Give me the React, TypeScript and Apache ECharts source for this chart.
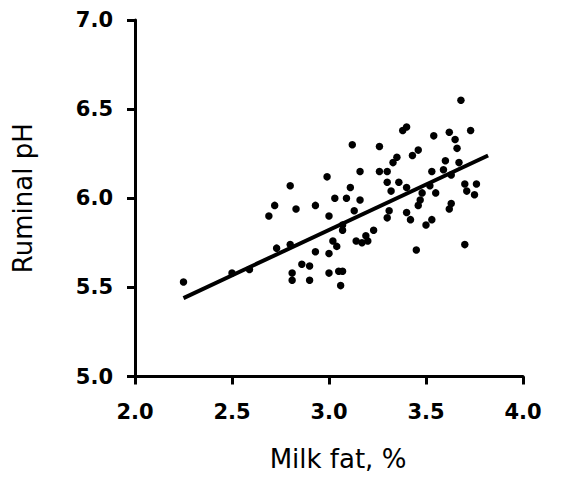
import React, { useEffect, useRef } from "react";
import * as echarts from "echarts";

const xTicks = ["2.0", "2.5", "3.0", "3.5", "4.0"];
const yTicks = ["5.0", "5.5", "6.0", "6.5", "7.0"];

const milkFat = [
  2.25, 2.5, 2.59, 2.69, 2.72, 2.73, 2.8, 2.8, 2.81, 2.81, 2.83, 2.86, 2.9, 2.9, 2.93, 2.93,
  2.99, 3.0, 3.0, 3.0, 3.03, 3.02, 3.04, 3.05, 3.07, 3.06, 3.07, 3.07, 3.09, 3.11, 3.12, 3.13,
  3.14, 3.16, 3.16, 3.17, 3.19, 3.2, 3.23, 3.26, 3.26, 3.3, 3.3, 3.3, 3.31, 3.32, 3.33, 3.35,
  3.36, 3.38, 3.4, 3.4, 3.4, 3.42, 3.43, 3.46, 3.45, 3.47, 3.46, 3.48, 3.5, 3.53, 3.54, 3.53,
  3.55, 3.59, 3.6, 3.62, 3.63, 3.62, 3.63, 3.65, 3.66, 3.67, 3.68, 3.7, 3.7, 3.71, 3.73, 3.75,
  3.76, 3.52,
];
const ruminalPH = [
  5.53, 5.58, 5.6, 5.9, 5.96, 5.72, 6.07, 5.74, 5.58, 5.54, 5.94, 5.63, 5.62, 5.54, 5.7, 5.96,
  6.12, 5.9, 5.69, 5.58, 6.0, 5.76, 5.73, 5.59, 5.59, 5.51, 5.82, 5.85, 6.0, 6.06, 6.3, 5.93,
  5.76, 6.15, 5.99, 5.75, 5.79, 5.76, 5.82, 6.29, 6.15, 6.15, 6.09, 5.89, 5.93, 6.04, 6.2, 6.23,
  6.09, 6.38, 6.4, 6.06, 5.92, 5.88, 6.24, 6.27, 5.71, 5.99, 5.96, 6.03, 5.85, 5.88, 6.35, 6.15,
  6.03, 6.16, 6.21, 6.37, 6.13, 5.94, 5.97, 6.33, 6.28, 6.2, 6.55, 6.08, 5.74, 6.04, 6.38, 6.02,
  6.08, 6.07,
];

const fitX = [2.25, 3.82];
const fitY = [5.44, 6.24];

export default function App() {
  const ref = useRef<HTMLDivElement>(null);
  useEffect(() => {
    if (!ref.current) return;
    const chart = echarts.init(ref.current, null, { renderer: "svg" });
    const tickFont = {
      fontFamily: "DejaVu Sans",
      fontWeight: "bold" as const,
      fontSize: 21,
      color: "#000",
    };
    chart.setOption({
      animation: false,
      backgroundColor: "#fff",
      grid: { left: 135, right: 47, top: 20, bottom: 106.5, containLabel: false },
      xAxis: {
        type: "value",
        min: 2,
        max: 4,
        interval: 0.5,
        name: "Milk fat, %",
        nameLocation: "middle",
        nameGap: 69,
        nameTextStyle: { fontFamily: "DejaVu Sans", fontSize: 26, color: "#000", padding: [0, 0, 0, 18] },
        axisLine: { show: true, lineStyle: { color: "#000", width: 3 } },
        axisTick: { show: true, length: 8, lineStyle: { color: "#000", width: 3 } },
        axisLabel: { ...tickFont, margin: 25, formatter: (v: number) => xTicks[Math.round((v - 2) / 0.5)] ?? "" },
        splitLine: { show: false },
      },
      yAxis: {
        type: "value",
        min: 5,
        max: 7,
        interval: 0.5,
        name: "Ruminal pH",
        nameLocation: "middle",
        nameGap: 99,
        nameTextStyle: { fontFamily: "DejaVu Sans", fontSize: 26, color: "#000" },
        axisLine: { show: true, lineStyle: { color: "#000", width: 3 } },
        axisTick: { show: true, length: 8, lineStyle: { color: "#000", width: 3 } },
        axisLabel: { ...tickFont, margin: 22, formatter: (v: number) => yTicks[Math.round((v - 5) / 0.5)] ?? "" },
        splitLine: { show: false },
      },
      series: [
        {
          type: "scatter",
          data: milkFat.map((x, i) => [x, ruminalPH[i]]),
          symbol: "circle",
          symbolSize: 7.5,
          itemStyle: { color: "#000", opacity: 1 },
          z: 3,
        },
        {
          type: "line",
          data: fitX.map((x, i) => [x, fitY[i]]),
          symbol: "none",
          lineStyle: { color: "#000", width: 4 },
          z: 2,
        },
      ],
    });
    return () => chart.dispose();
  }, []);
  return (
    <div
      ref={ref}
      style={{ position: "fixed", left: 0, top: 0, width: 570, height: 483, background: "#fff" }}
    />
  );
}
